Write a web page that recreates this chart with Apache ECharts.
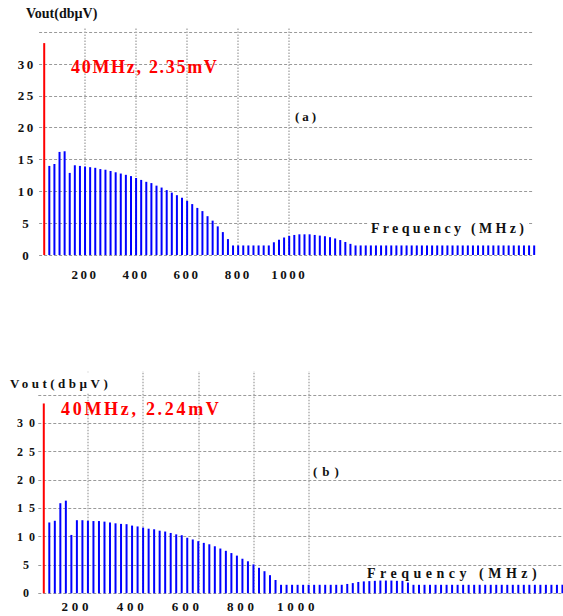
<!DOCTYPE html>
<html><head><meta charset="utf-8">
<script src="https://cdn.jsdelivr.net/npm/echarts@6/dist/echarts.min.js"></script>
<style>html,body{margin:0;padding:0;background:#fff;}#chart{width:563px;height:616px;}</style>
</head><body><div id="chart"></div>
<script>
// Harmonic frequencies (MHz)
const freqs = [60,80,100,120,140,160,180,200,220,240,260,280,300,320,340,360,380,400,420,440,460,480,500,520,540,560,580,600,620,640,660,680,700,720,740,760,780,800,820,840,860,880,900,920,940,960,980,1000,1020,1040,1060,1080,1100,1120,1140,1160,1180,1200,1220,1240,1260,1280,1300,1320,1340,1360,1380,1400,1420,1440,1460,1480,1500,1520,1540,1560,1580,1600,1620,1640,1660,1680,1700,1720,1740,1760,1780,1800,1820,1840,1860,1880,1900,1920,1940,1960];
// Panel (a) Vout (dBµV)
const voutA = [14.0,14.3,16.2,16.3,12.9,14.1,14.0,13.9,13.8,13.7,
 13.5,13.4,13.2,13.0,12.8,12.6,12.4,12.1,11.8,11.5,
 11.3,10.9,10.6,10.2,9.8,9.4,9.0,8.5,8.0,7.4,
 6.9,6.1,5.4,4.5,3.6,2.5,1.5,1.5,1.5,1.5,
 1.5,1.5,1.5,1.5,2.0,2.4,2.75,3.0,3.15,3.25,
 3.25,3.25,3.15,3.05,2.95,2.8,2.6,2.35,2.05,1.75,
 1.5,1.5,1.5,1.5,1.5,1.5,1.5,1.5,1.5,1.5,
 1.5,1.5,1.5,1.5,1.5,1.5,1.5,1.5,1.5,1.5,
 1.5,1.5,1.5,1.5,1.5,1.5,1.5,1.5,1.5,1.5,
 1.5,1.5,1.5,1.5,1.5,1.5];
// Panel (b) Vout (dBµV)
const voutB = [12.5,12.8,15.9,16.35,10.3,12.9,12.9,12.8,12.75,12.75,
 12.65,12.5,12.35,12.25,12.2,11.95,11.8,11.6,11.4,11.3,
 11.05,10.9,10.65,10.4,10.25,9.8,9.5,9.2,8.9,8.65,
 8.3,7.9,7.5,7.1,6.65,6.1,5.65,5.1,4.5,3.9,
 3.2,2.35,1.5,1.5,1.5,1.5,1.5,1.5,1.5,1.5,
 1.5,1.5,1.5,1.5,1.65,1.8,2.0,2.1,2.15,2.2,
 2.25,2.25,2.25,2.2,2.2,1.9,1.5,1.5,1.5,1.5,
 1.5,1.5,1.5,1.5,1.5,1.5,1.5,1.5,1.5,1.5,
 1.5,1.5,1.5,1.5,1.5,1.5,1.5,1.5,1.5,1.5,
 1.5,1.5,1.5,1.5];
// Fundamental (40 MHz) drawn as the red line, clipped
const fundFreq = 40;
const fundA = 33.3;
const fundB = 33.5;
const xTicks = [200,400,600,800,1000];
const yTicks = [0,5,10,15,20,25,30];
const gridLevels = [0,5,10,15,20,25,30,35];

const F = 'Liberation Serif, serif';
const YMAX_A = 35.72, XMAX_A = 1955;
const YMAX_B = 39.23, XMAX_B = 1922;

function gridLines(xmax, ymax){
  const h = gridLevels.map(v => [{coord:[20, v], lineStyle:{color:'#9a9a9a', width:1, type:[3,2]}}, {coord:[xmax, v]}]);
  const vv = xTicks.map(f => [{coord:[f, 0], lineStyle:{color:'#b0b0b0', width:1.5, type:[1.5,1.5]}}, {coord:[f, ymax - 0.01]}]);
  return h.concat(vv);
}
function barData(fv, vals, fund){
  const d = [{value:[fundFreq, fund], itemStyle:{color:'#ff0000'}}];
  vals.forEach((v,i)=> d.push([fv[i], v]));
  return d;
}
function label(txt, x, y, size, color){
  return {type:'text', x:x, y:y, z:100,
    style:{text:txt, fontFamily:F, fontWeight:'bold', fontSize:size, fill:color || '#111', textAlign:'left', textVerticalAlign:'middle'}};
}
const numLabel = {fontFamily:F, fontWeight:'bold', fontSize:13, color:'#111'};

const chart = echarts.init(document.getElementById('chart'), null, {renderer:'svg', width:563, height:616});
const option = {
  animation:false,
  backgroundColor:'#fff',
  grid:[
    {left:34, top:27.7, width:498.9, height:227.3, outerBoundsMode:'none'},
    {left:32.75, top:371, width:530.25, height:222.3, outerBoundsMode:'none'}
  ],
  xAxis:[
    {gridIndex:0, type:'value', min:0, max:XMAX_A, interval:200,
     axisLine:{show:false}, axisTick:{show:false}, splitLine:{show:false},
     axisLabel:Object.assign({margin:13, formatter:v=> xTicks.includes(v)? String(v):''}, numLabel)},
    {gridIndex:1, type:'value', min:0, max:XMAX_B, interval:200,
     axisLine:{show:false}, axisTick:{show:false}, splitLine:{show:false},
     axisLabel:Object.assign({margin:7, padding:[0,22,0,0], formatter:v=> xTicks.includes(v)? String(v):''}, numLabel)}
  ],
  yAxis:[
    {gridIndex:0, type:'value', min:0, max:YMAX_A, interval:5,
     axisLine:{show:false}, axisTick:{show:false}, splitLine:{show:false},
     axisLabel:Object.assign({margin:7.25, align:'center', padding:[12,0,0,0], formatter:v=> yTicks.includes(v)? String(v):''}, numLabel)},
    {gridIndex:1, type:'value', min:0, max:YMAX_B, interval:5,
     axisLine:{show:false}, axisTick:{show:false}, splitLine:{show:false},
     axisLabel:Object.assign({margin:3.75, align:'center', formatter:v=> yTicks.includes(v)? String(v):''}, numLabel, {fontSize:12})}
  ],
  series:[
    {type:'bar', xAxisIndex:0, yAxisIndex:0, barWidth:2, clip:false, z:10,
     itemStyle:{color:'#0000ff'}, data:barData(freqs, voutA, fundA),
     markLine:{silent:true, symbol:['none','none'], label:{show:false}, animation:false, data:gridLines(XMAX_A, YMAX_A)}},
    {type:'bar', xAxisIndex:1, yAxisIndex:1, barWidth:2, clip:false, z:10,
     itemStyle:{color:'#0000ff'}, data:barData(freqs, voutB, fundB),
     markLine:{silent:true, symbol:['none','none'], label:{show:false}, animation:false, data:gridLines(XMAX_B, YMAX_B)}}
  ],
  graphic:[
    {type:'rect', x:369, y:222, z:99, shape:{x:0, y:0, width:158, height:14}, style:{fill:'#fff'}},
    {type:'rect', x:8, y:373, z:99, shape:{x:0, y:0, width:106, height:20}, style:{fill:'#fff'}},
    label('Vout(db\u00B5V)', 26, 13, 14),
    label('40MHz, 2.35mV', 71, 67, 18, '#ff0000'),
    label('(a)', 295, 116, 13),
    label('Frequency (MHz)', 371, 228, 14),
    label('Vout(db\u00B5V)', 10, 383, 13),
    label('40MHz, 2.24mV', 61, 409, 18, '#ff0000'),
    label('(b)', 313, 471, 13),
    label('Frequency (MHz)', 367, 573, 14)
  ]
};
chart.setOption(option);

// Typographic letter-spacing as in the original figure
function applySpacing(){
  document.querySelectorAll('#chart text').forEach(t=>{
    const s = t.textContent;
    const r = t.getBoundingClientRect();
    const cx = r.left + r.width/2, cy = r.top + r.height/2;
    const top = cy < 308;
    let ls = 0;
    if (/^\d+$/.test(s)) {
      if (cx < 40) ls = top ? 2.5 : 6; else ls = top ? 2.5 : 3.8;
    } else if (s.indexOf('Vout') === 0) ls = top ? 0 : 3.5;
    else if (s.indexOf('40MHz') === 0) ls = top ? 1.7 : 2.7;
    else if (s === '(a)') ls = 3;
    else if (s === '(b)') ls = 5;
    else if (s.indexOf('Frequency') === 0) ls = top ? 3.3 : 4.5;
    if (ls) t.style.letterSpacing = ls + 'px';
  });
}
applySpacing();
</script>
</body></html>
